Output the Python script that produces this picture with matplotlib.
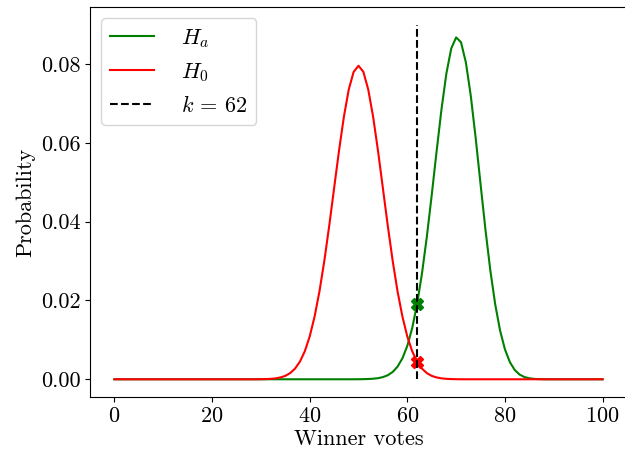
import matplotlib
matplotlib.use("Agg")
import matplotlib.pyplot as plt

plt.rcParams['font.family'] = 'serif'
plt.rcParams['font.serif'] = ['cmr10']
plt.rcParams['mathtext.fontset'] = 'cm'
plt.rcParams['axes.formatter.use_mathtext'] = True
plt.rcParams['font.size'] = 16

votes = list(range(101))

h0_probs = [
    0.0, 0.0, 0.0, 0.0, 0.0, 0.0, 0.0, 0.0, 0.0, 0.0,
    0.0, 0.0, 0.0, 0.0, 0.0, 0.0, 0.0, 0.0, 0.0, 0.0,
    0.0, 0.0, 0.0, 0.0, 0.0, 0.0, 0.0, 0.0, 0.0, 0.0,
    0.00002, 0.00005, 0.00011, 0.00023, 0.00046, 0.00086, 0.00156, 0.00271, 0.00448, 0.00711,
    0.01084, 0.01590, 0.02229, 0.03007, 0.03895, 0.04847, 0.05796, 0.06659, 0.07353, 0.07803,
    0.07959,
    0.07803, 0.07353, 0.06659, 0.05796, 0.04847, 0.03895, 0.03007, 0.02229, 0.01590, 0.01084,
    0.00711, 0.00448, 0.00271, 0.00156, 0.00086, 0.00046, 0.00023, 0.00011, 0.00005, 0.00002,
    0.0, 0.0, 0.0, 0.0, 0.0, 0.0, 0.0, 0.0, 0.0, 0.0,
    0.0, 0.0, 0.0, 0.0, 0.0, 0.0, 0.0, 0.0, 0.0, 0.0,
    0.0, 0.0, 0.0, 0.0, 0.0, 0.0, 0.0, 0.0, 0.0, 0.0,
]

ha_probs = [
    0.0, 0.0, 0.0, 0.0, 0.0, 0.0, 0.0, 0.0, 0.0, 0.0,
    0.0, 0.0, 0.0, 0.0, 0.0, 0.0, 0.0, 0.0, 0.0, 0.0,
    0.0, 0.0, 0.0, 0.0, 0.0, 0.0, 0.0, 0.0, 0.0, 0.0,
    0.0, 0.0, 0.0, 0.0, 0.0, 0.0, 0.0, 0.0, 0.0, 0.0,
    0.0, 0.0, 0.0, 0.0, 0.0, 0.0, 0.0, 0.0, 0.0, 0.0,
    0.00001, 0.00003, 0.00007, 0.00014, 0.00028, 0.00055, 0.00103, 0.00185, 0.00321, 0.00533,
    0.00849, 0.01299, 0.01907, 0.02684, 0.03620, 0.04678, 0.05788, 0.06853, 0.07761, 0.08398,
    0.08678, 0.08555, 0.08040, 0.07196, 0.06127, 0.04956, 0.03804, 0.02767, 0.01904, 0.01237,
    0.00758, 0.00437, 0.00236, 0.00119, 0.00056, 0.00025, 0.00010, 0.00004, 0.00001, 0.0,
    0.0, 0.0, 0.0, 0.0, 0.0, 0.0, 0.0, 0.0, 0.0, 0.0,
    0.0,
]

k = 62
k_line_top = 0.09
ha_at_k = 0.01907
h0_at_k = 0.00448

fig = plt.figure(figsize=(6.25, 4.55), dpi=100)
ax = fig.add_axes([90/625, 1-397/455, (627-90)/625, (397-7)/455])

ax.plot(votes, ha_probs, color='green', label='$H_a$')
ax.plot(votes, h0_probs, color='red', label='$H_0$')
ax.plot([k], [ha_at_k], marker='X', color='green', markersize=8, zorder=2)
ax.plot([k], [h0_at_k], marker='X', color='red', markersize=8, zorder=2)
ax.vlines(k, 0, k_line_top, colors='black', linestyles='dashed', label=r'$k\,=\,62$', zorder=3)

ax.spines['right'].set_visible(False)
ax.set_xlabel('Winner votes', labelpad=2)
ax.set_ylabel('Probability')
ax.set_xticks([0, 20, 40, 60, 80, 100])
ax.set_yticks([0.0, 0.02, 0.04, 0.06, 0.08])
ax.set_yticklabels(['0.00', '0.02', '0.04', '0.06', '0.08'])
ax.legend(loc='upper left', handletextpad=1.2)

fig.savefig('out.png', dpi=100)
